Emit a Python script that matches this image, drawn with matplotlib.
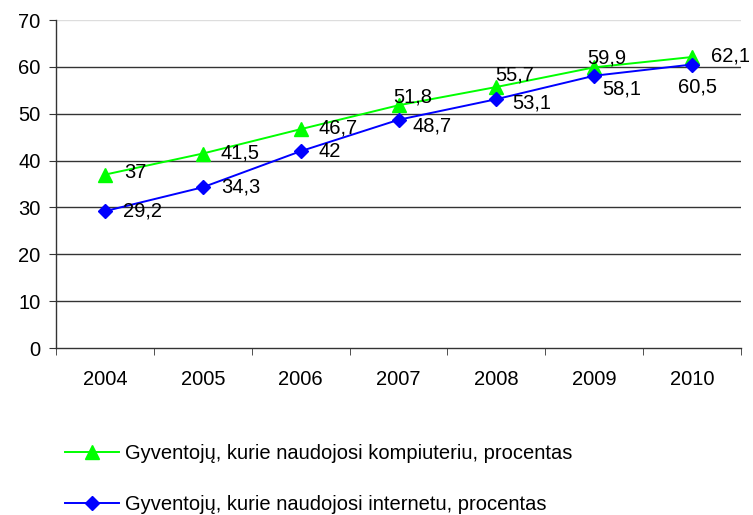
import matplotlib
matplotlib.use("Agg")
import matplotlib.pyplot as plt

years = ["2004", "2005", "2006", "2007", "2008", "2009", "2010"]
computer = [37, 41.5, 46.7, 51.8, 55.7, 59.9, 62.1]
internet = [29.2, 34.3, 42, 48.7, 53.1, 58.1, 60.5]
label_computer = "Gyventojų, kurie naudojosi kompiuteriu, procentas"
label_internet = "Gyventojų, kurie naudojosi internetu, procentas"
yticks = [0, 10, 20, 30, 40, 50, 60, 70]

plt.rcParams['font.family'] = ['Liberation Sans', 'DejaVu Sans']
FS = 14.5

fig = plt.figure(figsize=(7.53, 5.15), dpi=100)
ax = fig.add_axes([56/753, 1-348/515, (741-56)/753, (348-20)/515])

x = list(range(len(years)))
GREEN = '#00FF00'
BLUE = '#0000FF'

for y in yticks[1:-1]:
    ax.axhline(y, color='#333333', lw=1.0, zorder=1)
ax.axhline(yticks[-1], color='#dddddd', lw=1.0, zorder=1)

ax.plot(x, computer, color=GREEN, lw=1.4, marker='^', markersize=9.5, zorder=3,
        label=label_computer)
ax.plot(x, internet, color=BLUE, lw=1.4, marker='D', markersize=7.5, zorder=4,
        label=label_internet)

def fmt(v):
    s = f"{v:g}"
    return s.replace('.', ',')

off_c = [(19, 2), (18, 1), (18, 1), (-5, 8), (-1, 12), (-7, 9), (19, 1)]
off_i = [(18, 0), (18, 0), (18, 0), (14, -6), (16, -4), (8, -13), (-14, -22)]
for i, v in enumerate(computer):
    ax.annotate(fmt(v), (x[i], v), xytext=off_c[i], textcoords='offset pixels',
                ha='left', va='center', fontsize=FS, color='black', zorder=5)
for i, v in enumerate(internet):
    ax.annotate(fmt(v), (x[i], v), xytext=off_i[i], textcoords='offset pixels',
                ha='left', va='center', fontsize=FS, color='black', zorder=5)

ax.set_xlim(-0.5, len(years) - 0.5)
ax.set_ylim(0, 70)
ax.set_yticks(yticks)
ax.set_yticklabels([str(t) for t in yticks], fontsize=FS)
ax.set_xticks(x)
ax.set_xticklabels(years, fontsize=FS)
ax.set_xticks([i - 0.5 for i in range(len(years) + 1)], minor=True)
ax.tick_params(axis='x', which='major', length=0, pad=16)
ax.tick_params(axis='x', which='minor', length=5, direction='out', color='#333333')
ax.tick_params(axis='y', length=5, direction='out', color='#333333', pad=6)

for s in ['top', 'right']:
    ax.spines[s].set_visible(False)
for s in ['left', 'bottom']:
    ax.spines[s].set_color('#333333')
    ax.spines[s].set_linewidth(1.0)

fig.legend(loc='upper left', bbox_to_anchor=(65/753, 1-444/515),
           frameon=False, fontsize=FS, handlelength=2.7, handletextpad=0.3,
           labelspacing=1.6, borderpad=0, borderaxespad=0)

fig.savefig("out.png", dpi=100)
